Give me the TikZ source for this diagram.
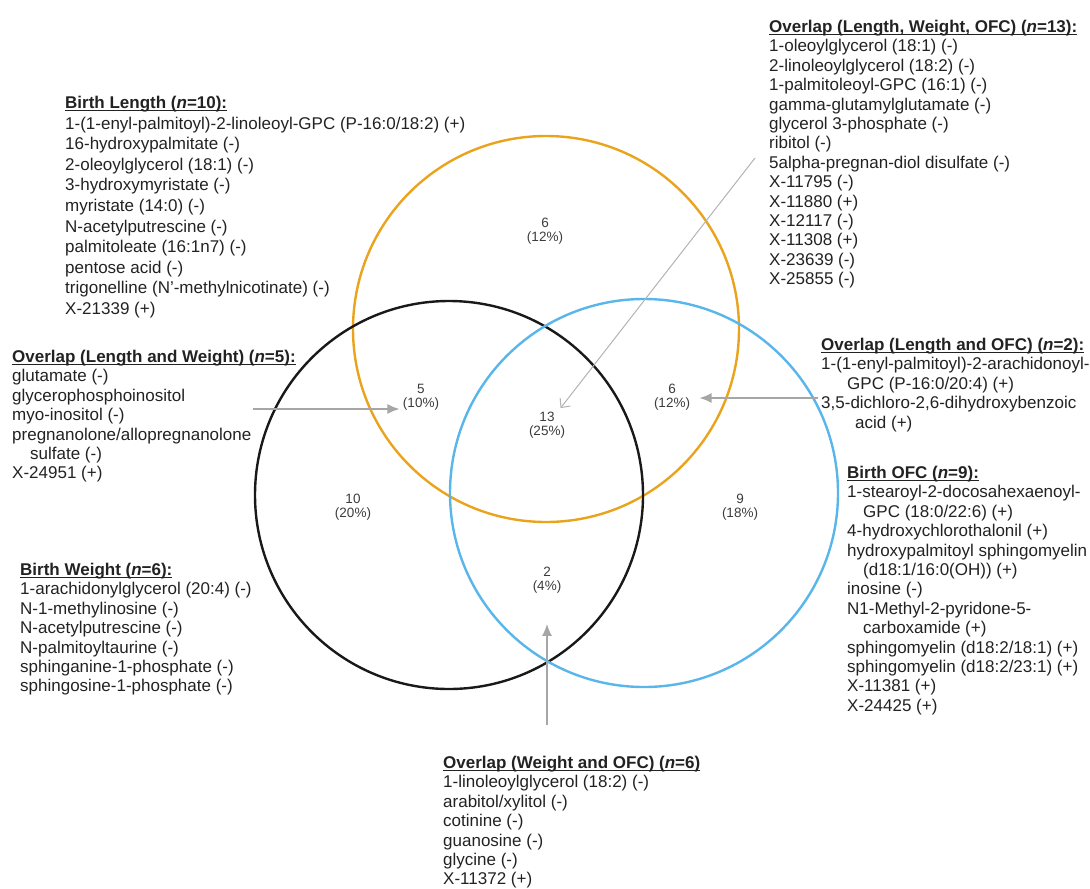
\documentclass[tikz,border=0pt]{standalone}
\usepackage{fontspec}
\setmainfont{Liberation Sans}
\usetikzlibrary{arrows.meta}
\definecolor{vennorange}{RGB}{234,163,28}
\definecolor{vennblue}{RGB}{88,182,234}
\definecolor{listgray}{RGB}{34,34,34}
\definecolor{countgray}{RGB}{60,60,60}
\definecolor{arrowgray}{RGB}{166,166,166}
\newsavebox{\headbox}
\newcommand{\listhead}[1]{\sbox{\headbox}{\textbf{#1}}\rlap{\rule[-2.6pt]{\wd\headbox}{1.2pt}}\usebox{\headbox}}

\begin{document}
\begin{tikzpicture}[
x=1pt, y=-1pt,
ring/.style={
    draw,
    circle,
    line width=2.4pt,
    inner sep=0pt
},
count/.style={
    align=center,
    text=countgray,
    font=\fontsize{13.5}{14.5}\selectfont
},
list/.style={
    anchor=north west,
    inner sep=0pt,
    align=left,
    text=listgray,
    font=\fontsize{17}{19.4}\selectfont
},
pointer/.style={
    draw=arrowgray,
    line width=1.5pt,
    -{Latex[length=12pt,width=10pt]}
},
>=latex
]
\useasboundingbox (0,0) rectangle (1090,889);

\node[ring, draw=vennorange, minimum size=386pt] (circL) at (546,329) {};
\node[ring, draw=black!90, minimum size=388pt] (circW) at (449,495) {};
\node[ring, draw=vennblue, minimum size=388pt] (circO) at (644,493) {};

\node[count] (nL) at (545,231) {6\\(12\%)};
\node[count] (nLW) at (421,397) {5\\(10\%)};
\node[count] (nLWO) at (547,425) {13\\(25\%)};
\node[count] (nLO) at (672,397) {6\\(12\%)};
\node[count] (nW) at (353,507) {10\\(20\%)};
\node[count] (nO) at (740,507) {9\\(18\%)};
\node[count] (nWO) at (547,580) {2\\(4\%)};

\node[list, font=\fontsize{17}{20.6}\selectfont] (lstL) at (65,96) {
    \listhead{Birth Length (\textit{n}=10):}\\
    1-(1-enyl-palmitoyl)-2-linoleoyl-GPC (P-16:0/18:2) (+)\\
    16-hydroxypalmitate (-)\\
    2-oleoylglycerol (18:1) (-)\\
    3-hydroxymyristate (-)\\
    myristate (14:0) (-)\\
    N-acetylputrescine (-)\\
    palmitoleate (16:1n7) (-)\\
    pentose acid (-)\\
    trigonelline (N'-methylnicotinate) (-)\\
    X-21339 (+)};
\node[list] (lstLW) at (12,350) {
    \listhead{Overlap (Length and Weight) (\textit{n}=5):}\\
    glutamate (-)\\
    glycerophosphoinositol\\
    myo-inositol (-)\\
    pregnanolone/allopregnanolone\\
    \hspace*{18pt}sulfate (-)\\
    X-24951 (+)};
\node[list] (lstLWO) at (769,20) {
    \listhead{Overlap (Length, Weight, OFC) (\textit{n}=13):}\\
    1-oleoylglycerol (18:1) (-)\\
    2-linoleoylglycerol (18:2) (-)\\
    1-palmitoleoyl-GPC (16:1) (-)\\
    gamma-glutamylglutamate (-)\\
    glycerol 3-phosphate (-)\\
    ribitol (-)\\
    5alpha-pregnan-diol disulfate (-)\\
    X-11795 (-)\\
    X-11880 (+)\\
    X-12117 (-)\\
    X-11308 (+)\\
    X-23639 (-)\\
    X-25855 (-)};
\node[list] (lstLO) at (821,338) {
    \listhead{Overlap (Length and OFC) (\textit{n}=2):}\\
    1-(1-enyl-palmitoyl)-2-arachidonoyl-\\
    \hspace*{26pt}GPC (P-16:0/20:4) (+)\\
    3,5-dichloro-2,6-dihydroxybenzoic\\
    \hspace*{34pt}acid (+)};
\node[list] (lstO) at (847,466) {
    \listhead{Birth OFC (\textit{n}=9):}\\
    1-stearoyl-2-docosahexaenoyl-\\
    \hspace*{16pt}GPC (18:0/22:6) (+)\\
    4-hydroxychlorothalonil (+)\\
    hydroxypalmitoyl sphingomyelin\\
    \hspace*{16pt}(d18:1/16:0(OH)) (+)\\
    inosine (-)\\
    N1-Methyl-2-pyridone-5-\\
    \hspace*{16pt}carboxamide (+)\\
    sphingomyelin (d18:2/18:1) (+)\\
    sphingomyelin (d18:2/23:1) (+)\\
    X-11381 (+)\\
    X-24425 (+)};
\node[list] (lstW) at (20,563) {
    \listhead{Birth Weight (\textit{n}=6):}\\
    1-arachidonylglycerol (20:4) (-)\\
    N-1-methylinosine (-)\\
    N-acetylputrescine (-)\\
    N-palmitoyltaurine (-)\\
    sphinganine-1-phosphate (-)\\
    sphingosine-1-phosphate (-)};
\node[list] (lstWO) at (443,756) {
    \listhead{Overlap (Weight and OFC) (\textit{n}=6)}\\
    1-linoleoylglycerol (18:2) (-)\\
    arabitol/xylitol (-)\\
    cotinine (-)\\
    guanosine (-)\\
    glycine (-)\\
    X-11372 (+)};

\coordinate (aLW) at (253,409);
\draw[pointer] (aLW) -- (aLW -| nLW.west);
\coordinate (aLO) at (818,398);
\draw[pointer] (aLO) -- ([xshift=6pt]aLO -| nLO.east);
\coordinate (aLWO) at (755,158);
\draw[draw=arrowgray!85, line width=1pt, -{Straight Barb[length=7pt,width=13pt]}] (aLWO) -- ([xshift=-8pt]nLWO.north east);
\coordinate (aWO) at (547,725);
\draw[pointer] (aWO) -- ([yshift=-27pt]nWO.south);
\end{tikzpicture}
\end{document}
